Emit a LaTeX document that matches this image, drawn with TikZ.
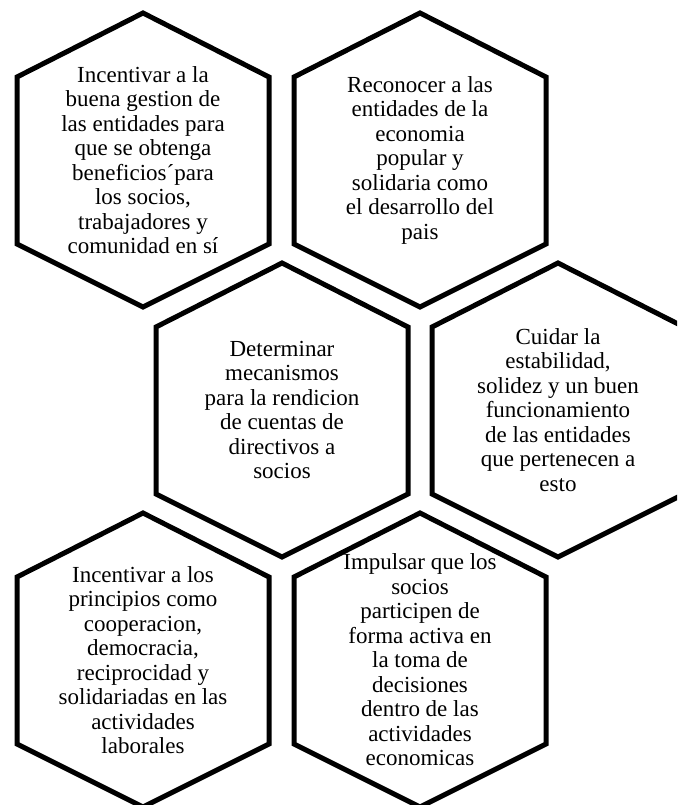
\documentclass[tikz,border=0pt]{standalone}
\usepackage{fontspec}
\setmainfont{Liberation Serif}

\tikzset{
  hexline/.style={line width=5pt, line join=miter, fill=white},
  hextext/.style={align=center, inner sep=0pt, font=\fontsize{23}{24.5}\selectfont}
}
% one hexagon cell: name, x, y, text
\newcommand{\hexcell}[4]{%
  \draw[hexline] (#2,#3) ++(0,-147) -- ++(126,64) -- ++(0,167) -- ++(-126,63)
    -- ++(-126,-63) -- ++(0,-167) -- cycle;
  \node[hextext] (#1) at (#2,#3) {#4};
}

\begin{document}
\begin{tikzpicture}[x=1pt,y=-1pt]
  \useasboundingbox (0,0) rectangle (677,805);
  \clip (0,0) rectangle (677,805);

  % first row
  \hexcell{gestion}{143}{160}{Incentivar a la\\ buena gestion de\\ las entidades para\\ que se obtenga\\ beneficios´para\\ los socios,\\ trabajadores y\\ comunidad en sí}
  \hexcell{reconocer}{420}{160}{Reconocer a las\\ entidades de la\\ economia\\ popular y\\ solidaria como\\ el desarrollo del\\ pais}

  % second row
  \hexcell{rendicion}{282}{410}{Determinar\\ mecanismos\\ para la rendicion\\ de cuentas de\\ directivos a\\ socios}
  \hexcell{estabilidad}{558}{410}{Cuidar la\\ estabilidad,\\ solidez y un buen\\ funcionamiento\\ de las entidades\\ que pertenecen a\\ esto}

  % third row
  \hexcell{principios}{143}{660}{Incentivar a los\\ principios como\\ cooperacion,\\ democracia,\\ reciprocidad y\\ solidariadas en las\\ actividades\\ laborales}
  \hexcell{socios}{420}{660}{Impulsar que los\\ socios\\ participen de\\ forma activa en\\ la toma de\\ decisiones\\ dentro de las\\ actividades\\ economicas}
\end{tikzpicture}
\end{document}
